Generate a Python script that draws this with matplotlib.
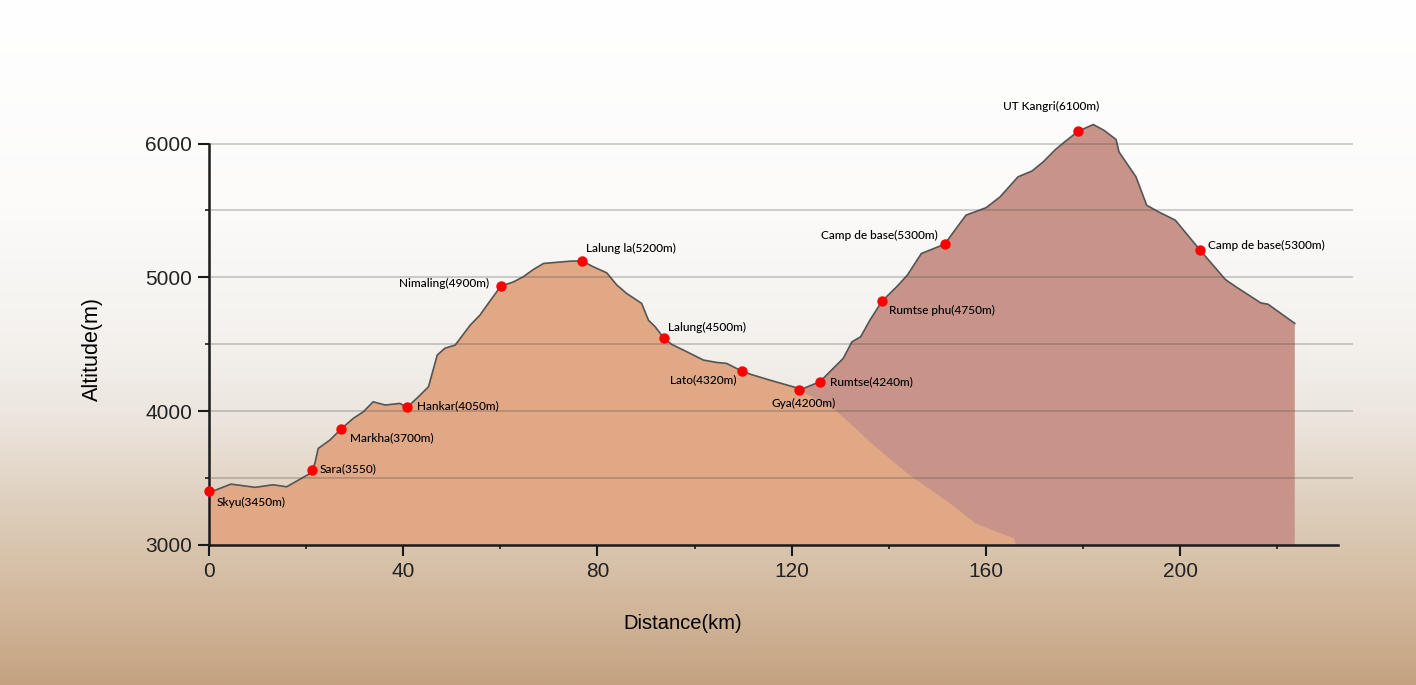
import numpy as np
import matplotlib
matplotlib.use("Agg")
import matplotlib.pyplot as plt
from matplotlib.colors import LinearSegmentedColormap
from matplotlib.ticker import MultipleLocator

# First profile: Skyu -> Gya (km, m), then the hidden slope down to the base
prof1_km = [0, 4.5, 9.5, 13.2, 16, 20.5, 21.2, 21.8, 22.5, 24.9, 27.1, 29.7, 31.8,
            33.8, 36.3, 39.3, 40.8, 43.1, 45.2, 47, 48.6, 50.7, 53.8, 55.8, 58,
            60.1, 62.7, 64.7, 66.8, 68.9, 74.4, 76.8, 79.2, 81.9, 84, 86, 89.1,
            90.5, 91.9, 93.7, 95.3, 98.4, 101.8, 104.6, 106.6, 109.7, 111.4,
            115.5, 120.7, 121.6]
prof1_alt = [3391, 3455, 3431, 3450, 3435, 3528, 3560, 3610, 3722, 3784, 3864, 3946,
             3996, 4070, 4046, 4058, 4028, 4107, 4182, 4419, 4471, 4494, 4643, 4718,
             4830, 4934, 4966, 5004, 5059, 5104, 5121, 5123, 5078, 5034, 4942, 4880,
             4805, 4680, 4630, 4544, 4499, 4444, 4382, 4364, 4357, 4300, 4277, 4232,
             4178, 4158]
slope_km = [125, 129, 132.8, 136.4, 143.8, 152.6, 157.8, 162.1, 165.8, 166.2]
slope_alt = [4090, 4008, 3884, 3760, 3535, 3311, 3162, 3100, 3050, 3000]

# Second profile: Gya -> UT Kangri -> Camp de base
prof2_km = [121.6, 125.8, 130.6, 132.4, 134.2, 136.1, 138.6, 141.6, 143.8, 146.7,
            151.5, 154.1, 155.9, 160, 162.9, 166.6, 169.5, 171.8, 174.3, 176.2,
            179, 182.1, 184.3, 186.8, 187.4, 190.9, 193.1, 195.3, 199, 204, 209.3,
            211.5, 216.6, 218.1, 223.6]
prof2_alt = [4158, 4220, 4394, 4518, 4556, 4680, 4822, 4929, 5016, 5178, 5248, 5377,
             5465, 5520, 5601, 5751, 5795, 5863, 5955, 6012, 6092, 6142, 6099, 6030,
             5937, 5751, 5539, 5494, 5427, 5208, 4984, 4929, 4809, 4799, 4656]

# Waypoints
stop_names = ["Skyu(3450m)", "Sara(3550)", "Markha(3700m)", "Hankar(4050m)",
              "Nimaling(4900m)", "Lalung la(5200m)", "Lalung(4500m)", "Lato(4320m)",
              "Gya(4200m)", "Rumtse(4240m)", "Rumtse phu(4750m)", "Camp de base(5300m)",
              "UT Kangri(6100m)", "Camp de base(5300m)"]
stop_km = [0, 21.2, 27.1, 40.8, 60.1, 76.8, 93.7, 109.7, 121.6, 125.8, 138.6, 151.5,
           179, 204]
stop_alt = [3400, 3560, 3864, 4028, 4934, 5123, 4544, 4300, 4158, 4220, 4822, 5248,
            6092, 5208]
# label offset in pixels and alignment
label_pos = [(8, -11, "left"), (8, 1, "left"), (9, -8, "left"), (10, 2, "left"),
             (-12, 3, "right"), (4, 12, "left"), (4, 11, "left"), (-5, -9, "right"),
             (4, -13, "center"), (10, 0, "left"), (7, -9, "left"), (-7, 9, "right"),
             (-27, 25, "center"), (8, 4, "left")]

x_ticks = [0, 40, 80, 120, 160, 200]
y_ticks = [3000, 4000, 5000, 6000]
grid_levels = [3500, 4000, 4500, 5000, 5500, 6000]

fig = plt.figure(figsize=(14.16, 6.85), dpi=100)

# background gradient
bg = fig.add_axes([0, 0, 1, 1], zorder=-10)
bg_cmap = LinearSegmentedColormap.from_list(
    "bg", [(0.0, "#c4a281"), (0.12, "#d2b89c"), (0.25, "#ddcdba"),
           (0.38, "#ebe4dc"), (0.5, "#f4f1ed"), (0.7, "#fcfbfa"), (1.0, "#ffffff")])
bg.imshow(np.linspace(0, 1, 256).reshape(-1, 1), aspect="auto", cmap=bg_cmap,
          origin="lower", extent=[0, 1, 0, 1])
bg.axis("off")

ax = fig.add_axes([209 / 1416, 140 / 685, 1129 / 1416, 455 / 685])
ax.set_facecolor("none")
ax.set_xlim(0, 232.5)
ax.set_ylim(3000, 6400)

# brown profile (behind)
bx = [prof2_km[0]] + prof2_km + [prof2_km[-1]]
by = [3000] + prof2_alt + [3000]
ax.fill(bx, by, color="#c8948a", lw=0, zorder=1)
# orange profile (front)
ox = prof1_km + slope_km + [0]
oy = prof1_alt + slope_alt + [3000]
ax.fill(ox, oy, color="#e1a886", lw=0, zorder=2)

# outline
ax.plot(prof1_km, prof1_alt, color="#555555", lw=1.2, zorder=3)
ax.plot(prof2_km, prof2_alt, color="#555555", lw=1.2, zorder=3)

# grid lines, drawn over the fills
ax.hlines(grid_levels, 0.5, 235.5, colors="#444444", alpha=0.25, lw=1.4,
          zorder=4, clip_on=False)

# waypoints
ax.scatter(stop_km, stop_alt, s=42, color="#ff0000", zorder=6, clip_on=False)
for name, xk, ya, (dx, dy, ha) in zip(stop_names, stop_km, stop_alt, label_pos):
    ax.annotate(name, (xk, ya), xytext=(dx, dy), textcoords="offset pixels",
                ha=ha, va="center", fontsize=8.6, family="Lato", weight="medium",
                zorder=7)

for s in ["top", "right"]:
    ax.spines[s].set_visible(False)
ax.spines["left"].set_bounds(3000, 6000)
ax.spines["left"].set_linewidth(1.8)
ax.spines["bottom"].set_linewidth(1.8)
ax.spines["left"].set_color("#1a1a1a")
ax.spines["bottom"].set_color("#1a1a1a")

ax.set_xticks(x_ticks)
ax.set_yticks(y_ticks)
ax.xaxis.set_minor_locator(MultipleLocator(20))
ax.yaxis.set_minor_locator(MultipleLocator(500))
ax.tick_params(which="major", length=8, width=1.5, color="#1a1a1a",
               labelsize=15, pad=4)
ax.tick_params(which="minor", length=3, width=1.2, color="#1a1a1a")
for lab in ax.get_xticklabels() + ax.get_yticklabels():
    lab.set_family("Liberation Sans")
    lab.set_color("#222222")

ax.set_xlabel("Distance(km)", fontsize=14.5, family="Liberation Sans")
ax.set_ylabel("Altitude(m)", fontsize=15.5, family="Liberation Sans")
ax.xaxis.set_label_coords(0.42, -0.152)
ax.yaxis.set_label_coords(-0.094, 0.43)

fig.savefig("out.png", dpi=100)
